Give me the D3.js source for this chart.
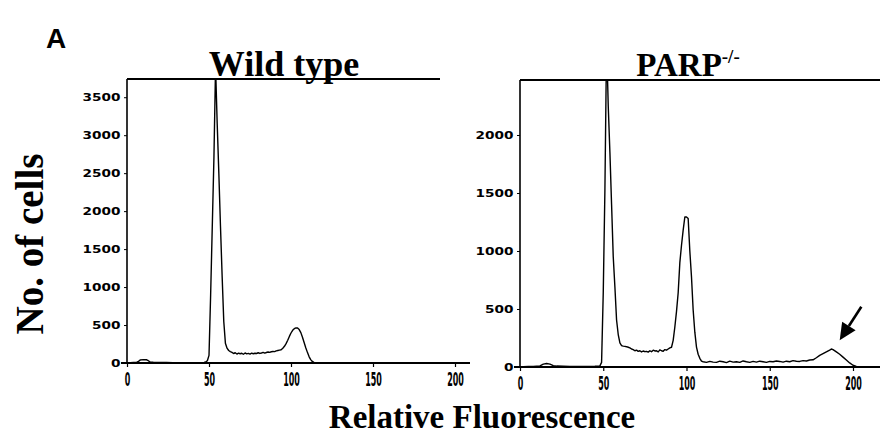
<!DOCTYPE html>
<html>
<head>
<meta charset="utf-8">
<script src="https://cdn.jsdelivr.net/npm/d3@7"></script>
<style>
  body { margin: 0; background: #fff; }
  .serif { font-family: "Liberation Serif", "Times New Roman", serif; font-weight: bold; fill: #000; }
  .ytick text { font-family: "DejaVu Sans", sans-serif; font-weight: bold; font-size: 10.5px; }
  .xtick text { font-family: "DejaVu Sans", sans-serif; font-weight: bold; font-size: 20px; }
</style>
</head>
<body>
<script>
// tick values
const xTicks = [0, 50, 100, 150, 200];
const wtYTicks = [0, 500, 1000, 1500, 2000, 2500, 3000, 3500];
const koYTicks = [0, 500, 1000, 1500, 2000];

// [channel, count]
const wildType = [
  [0,0],[2,5],[4,8],[6,10],[7,20],[8,40],[10,45],[12,42],[13,30],[14,15],[16,10],[20,8],[24,6],
  [28,5],[32,5],[36,4],[40,5],[44,5],[47,8],[48,15],[49,30],[50,100],[51,900],[52,1800],[53,2700],
  [54,3900],[55,3150],[56,2500],[57,1800],[58,1150],[59,550],[60,260],[61,195],[62,165],[63,150],
  [64,140],[65,125],[66,135],[67,118],[68,130],[69,122],[70,128],[71,115],[72,132],[73,120],[74,126],
  [75,118],[76,130],[77,122],[78,128],[79,125],[80,135],[81,126],[82,132],[83,140],[84,130],[85,138],
  [86,145],[87,140],[88,148],[89,152],[90,150],[91,160],[92,165],[93,170],[94,175],[95,195],[96,220],
  [97,255],[98,300],[99,350],[100,395],[101,430],[102,452],[103,462],[104,460],[105,440],[106,400],
  [107,340],[108,270],[109,200],[110,140],[111,85],[112,45],[113,20],[114,8],[116,4],[120,3],
  [130,3],[140,3],[150,3],[160,3],[170,3],[180,3],[190,3],[200,3],[210,3],[215,3]
];

const parpKO = [
  [0,0],[2,3],[5,5],[8,5],[12,10],[14,25],[16,30],[18,25],[20,12],[22,8],[26,6],[30,5],[35,5],
  [40,5],[45,6],[48,10],[49,40],[50,640],[51,1530],[52,2800],[53,2250],[54,1850],[55,1400],
  [56,950],[57,690],[58,405],[59,280],[60,207],[61,185],[62,180],[63,178],[64,175],[65,170],
  [66,165],[67,155],[68,150],[69,140],[70,145],[71,135],[72,140],[73,130],[74,138],[75,132],
  [76,135],[77,128],[78,140],[79,132],[80,145],[81,138],[82,140],[83,130],[84,148],[85,140],
  [86,135],[87,150],[88,145],[89,155],[90,165],[91,170],[92,230],[93,345],[94,480],[95,640],
  [96,900],[97,1050],[98,1180],[99,1293],[100,1293],[101,1280],[102,1000],[103,776],[104,491],
  [105,300],[106,172],[107,110],[108,75],[109,50],[110,45],[112,40],[114,48],[116,42],[118,40],
  [120,50],[122,45],[124,38],[126,50],[128,42],[130,45],[132,40],[134,52],[136,45],[138,40],
  [140,48],[142,42],[144,50],[146,45],[148,40],[150,48],[152,45],[154,52],[156,48],[158,42],
  [160,50],[162,45],[164,55],[166,50],[168,48],[170,55],[172,52],[174,60],[176,62],[178,80],
  [180,100],[182,115],[184,130],[186,145],[187,155],[188,150],[190,130],[192,110],[194,85],
  [196,60],[198,35],[200,15],[202,5],[205,3],[215,3]
];

// arrow in the PARP panel, tail -> tip, in data units
const arrowPoints = [[205, 520], [192, 230]];

const svg = d3.select("body").append("svg")
    .attr("width", 880)
    .attr("height", 441);

/** One flow-cytometry panel */
class Histogram {
    constructor(id, data, yTicks, yMax, xRange, yRange, frameRight, axisRight) {
        this.id = id;
        this.data = data;
        this.yTicks = yTicks;
        this.x = d3.scaleLinear().domain([0, 200]).range(xRange);
        this.y = d3.scaleLinear().domain([0, yMax]).range(yRange);
        this.frameRight = frameRight;    // where the top line stops
        this.axisRight = axisRight;      // where the baseline stops
    }

    render() {
        let g = svg.append("g");
        let x = this.x, y = this.y;
        let x0 = x(0), yTop = y.range()[1], yBase = y(0);

        // clip for the data so the big peak gets cut at the frame
        g.append("clipPath").attr("id", "clip-" + this.id)
            .append("rect")
            .attr("x", x0).attr("y", yTop)
            .attr("width", this.frameRight - x0).attr("height", yBase - yTop);

        let line = d3.line().x(d => x(d[0])).y(d => y(d[1]));
        g.append("path")
            .datum(this.data)
            .attr("clip-path", "url(#clip-" + this.id + ")")
            .attr("fill", "none")
            .attr("stroke", "#000")
            .attr("stroke-width", 1.4)
            .attr("stroke-linejoin", "round")
            .attr("d", line);

        // frame lines
        g.append("line").attr("x1", x0).attr("x2", x0).attr("y1", yTop).attr("y2", yBase)
            .attr("stroke", "#000").attr("stroke-width", 1.6);
        g.append("line").attr("x1", x0).attr("x2", this.frameRight).attr("y1", yTop).attr("y2", yTop)
            .attr("stroke", "#000").attr("stroke-width", 2);
        g.append("line").attr("x1", x0 - 6).attr("x2", this.axisRight).attr("y1", yBase).attr("y2", yBase)
            .attr("stroke", "#000").attr("stroke-width", 1.8);

        // y axis
        let ya = g.append("g").attr("class", "ytick")
            .attr("transform", "translate(" + x0 + ",0)")
            .call(d3.axisLeft(y).tickValues(this.yTicks).tickSize(3).tickPadding(2).tickFormat(d3.format("d")));
        ya.select(".domain").remove();
        ya.selectAll("text").attr("transform", "scale(1.3,1)");

        // x axis
        let xa = g.append("g").attr("class", "xtick")
            .attr("transform", "translate(0," + yBase + ")")
            .call(d3.axisBottom(x).tickValues(xTicks).tickSize(4).tickPadding(5).tickFormat(d3.format("d")));
        xa.select(".domain").remove();
        xa.selectAll("text").attr("transform", "scale(0.4,1)");
        xa.selectAll("line").attr("stroke-width", 1.2);

        return g;
    }
}

let wt = new Histogram("wt", wildType, wtYTicks, 3740, [127, 455], [363, 79], 440, 470);
wt.render();

let ko = new Histogram("ko", parpKO, koYTicks, 2474, [520, 853], [367, 80], 880, 880);
let koGroup = ko.render();

// arrow pointing at the peak near 190
let tail = [ko.x(arrowPoints[0][0]), ko.y(arrowPoints[0][1])];
let tip = [ko.x(arrowPoints[1][0]), ko.y(arrowPoints[1][1])];
let ang = Math.atan2(tip[1] - tail[1], tip[0] - tail[0]);
let headLen = 17, headW = 8;
let baseX = tip[0] - headLen * Math.cos(ang), baseY = tip[1] - headLen * Math.sin(ang);
koGroup.append("line")
    .attr("x1", tail[0]).attr("y1", tail[1]).attr("x2", baseX).attr("y2", baseY)
    .attr("stroke", "#000").attr("stroke-width", 2.6);
koGroup.append("polygon")
    .attr("points", [
        tip,
        [baseX + headW * Math.sin(ang), baseY - headW * Math.cos(ang)],
        [baseX - headW * Math.sin(ang), baseY + headW * Math.cos(ang)]
    ].map(p => p.join(",")).join(" "))
    .attr("fill", "#000");

// texts
svg.append("text").attr("x", 46).attr("y", 48)
    .style("font-family", "'Liberation Sans', Arial, sans-serif").style("font-weight", "bold")
    .style("font-size", "28px").text("A");

svg.append("text").attr("class", "serif").attr("x", 284).attr("y", 76)
    .attr("text-anchor", "middle").style("font-size", "36px").text("Wild type");

let parp = svg.append("text").attr("class", "serif").attr("x", 688).attr("y", 76)
    .attr("text-anchor", "middle").style("font-size", "33px");
parp.append("tspan").text("PARP");
parp.append("tspan").attr("dy", -13).style("font-size", "19px").text("-/-");

svg.append("text").attr("class", "serif").attr("x", 482).attr("y", 428)
    .attr("text-anchor", "middle").style("font-size", "33px").text("Relative Fluorescence");

svg.append("text").attr("class", "serif")
    .attr("transform", "translate(43,244) rotate(-90)")
    .attr("text-anchor", "middle").style("font-size", "39px").text("No. of cells");
</script>
</body>
</html>
